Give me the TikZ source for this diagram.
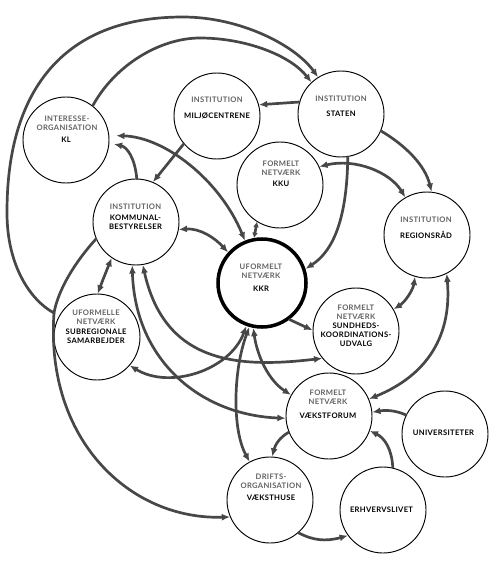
\documentclass[tikz,border=0pt]{standalone}
\usepackage{fontspec}
\setmainfont{Lato}[LetterSpace=4]
\usetikzlibrary{arrows.meta,positioning}
\definecolor{linkgrey}{HTML}{474747}
\definecolor{kindgrey}{HTML}{626262}
\begin{document}
\begin{tikzpicture}[x=0.03cm,y=-0.03cm,>={Latex[length=7pt,width=6pt]},line cap=round,
  org/.style={circle,draw=black,line width=0.8pt,minimum size=2.58cm,inner sep=0pt},
  hub/.style={org,line width=3pt,minimum size=2.64cm},
  kind/.style={font=\fontsize{6.5}{7.7}\selectfont\bfseries,text=kindgrey,align=center,inner sep=0pt},
  nm/.style={font=\fontsize{6.5}{7.7}\selectfont\bfseries,align=center,inner sep=0pt},
  link/.style={draw=linkgrey,line width=2.3pt}]
  \useasboundingbox (0,0) rectangle (500,561);
  \node[org] (kl) at (66,140) {};
  \node[org] (mil) at (217,116) {};
  \node[org] (sta) at (341,114) {};
  \node[org] (kku) at (280,185) {};
  \node[org] (reg) at (427,235) {};
  \node[org] (kom) at (136,222) {};
  \node[hub] (kkr) at (262,283) {};
  \node[org] (sub) at (97,337) {};
  \node[org] (sun) at (356,331) {};
  \node[org] (vae) at (329,416) {};
  \node[org] (uni) at (445,434) {};
  \node[org] (erh) at (383,510) {};
  \node[org] (hus) at (270,500) {};
  \coordinate (merge) at (54,313);
  % tekster
  \node[kind] (klK) at (67,123.5) {INTERESSE-\\ORGANISATION};
  \node[nm] (klN) at (66,140) {KL};
  \node[kind] (milK) at (217,100) {INSTITUTION};
  \node[nm] (milN) at (217,116) {MILJØCENTRENE};
  \node[kind] (staK) at (341,99) {INSTITUTION};
  \node[nm] (staN) at (341,114) {STATEN};
  \node[kind] (kkuK) at (281,168.5) {FORMELT\\NETVÆRK};
  \node[nm] (kkuN) at (281,184) {KKU};
  \node[kind] (regK) at (426,220) {INSTITUTION};
  \node[nm] (regN) at (426,235) {REGIONSRÅD};
  \node[kind] (komK) at (135.5,207) {INSTITUTION};
  \node[nm] (komN) at (135.5,222.5) {KOMMUNAL-\\BESTYRELSER};
  \node[kind] (kkrK) at (261,271.5) {UFORMELT\\NETVÆRK};
  \node[nm] (kkrN) at (261,289) {KKR};
  \node[kind] (subK) at (96,317.5) {UFORMELLE\\NETVÆRK};
  \node[nm] (subN) at (96,336.5) {SUBREGIONALE\\SAMARBEJDER};
  \node[kind] (sunK) at (356,312.5) {FORMELT\\NETVÆRK};
  \node[nm] (sunN) at (356,335) {SUNDHEDS-\\KOORDINATIONS-\\UDVALG};
  \node[kind] (vaeK) at (328,397.5) {FORMELT\\NETVÆRK};
  \node[nm] (vaeN) at (328,416) {VÆKSTFORUM};
  \node[nm] (uniN) at (443.5,433) {UNIVERSITETER};
  \node[nm] (erhN) at (381.5,510) {ERHVERVSLIVET};
  \node[kind] (husK) at (271,481.5) {DRIFTS-\\ORGANISATION};
  \node[nm] (husN) at (271,498) {VÆKSTHUSE};
  % forbindelser
  \draw[link,->] (merge) .. controls (30,300) and (7,265) .. (7,213)
    .. controls (7,160) and (15,17) .. (183,17)
    .. controls (240,17) and (295,45) .. (sta.122);
  \draw[link,->] (kl.52) .. controls (115,65) and (160,38) .. (200,38)
    .. controls (245,38) and (290,55) .. (sta.133);
  \draw[link] (kom.203) .. controls (75,262) and (58,290) .. (merge);
  \draw[link,->] (merge) .. controls (45,440) and (130,520) .. (hus.203);
  \draw[link,->] (sta.164) -- (mil.15);
  \draw[link,->] (mil.220) -- (kom.67);
  \draw[link,->,shorten >=4pt] (kom.89) .. controls (135,158) and (127,147) .. (kl.356);
  \draw[link,<->,shorten <=6pt] (kl.6) .. controls (165,137) and (220,180) .. (kkr.112);
  \draw[link,<->] (kom.350) .. controls (200,228) and (215,238) .. (kkr.138);
  \draw[link,{Latex[length=4.5pt,width=5pt]}-{Latex[length=4.5pt,width=5pt]}] (kku.238) -- (kkr.100);
  \draw[link,->] (sta.279) .. controls (347,215) and (335,250) .. (kkr.18);
  \draw[link,->] (sta.337) .. controls (405,145) and (425,165) .. (reg.84);
  \draw[link,<->] (kku.25) .. controls (355,158) and (390,172) .. (reg.120);
  \draw[link,<->] (reg.254) .. controls (413,290) and (405,302) .. (sun.30);
  \draw[link,<->] (reg.297) .. controls (452,335) and (428,375) .. (vae.23);
  \draw[link,->] (kkr.307) -- (sun.179);
  \draw[link,<->] (kom.279) .. controls (165,365) and (240,368) .. (sun.219);
  \draw[link,<->] (kom.265) .. controls (135,360) and (200,415) .. (vae.183);
  \draw[link,<->] (kkr.250) .. controls (230,370) and (170,390) .. (sub.319);
  \draw[link,<->] (kkr.254) .. controls (233,370) and (232,430) .. (hus.118);
  \draw[link,<->] (kkr.259) .. controls (257,355) and (268,380) .. (vae.151);
  \draw[link,->] (vae.202) .. controls (280,437) and (275,445) .. (hus.87);
  \draw[link,->] (uni.154) .. controls (395,410) and (385,410) .. (vae.5);
  \draw[link,->] (erh.77) .. controls (392,450) and (385,438) .. (vae.340);
  \draw[link,->] (hus.311) .. controls (312,540) and (325,542) .. (erh.216);
  \draw[link,<->] (sub.89) .. controls (102,282) and (106,272) .. (kom.236);
\end{tikzpicture}
\end{document}
